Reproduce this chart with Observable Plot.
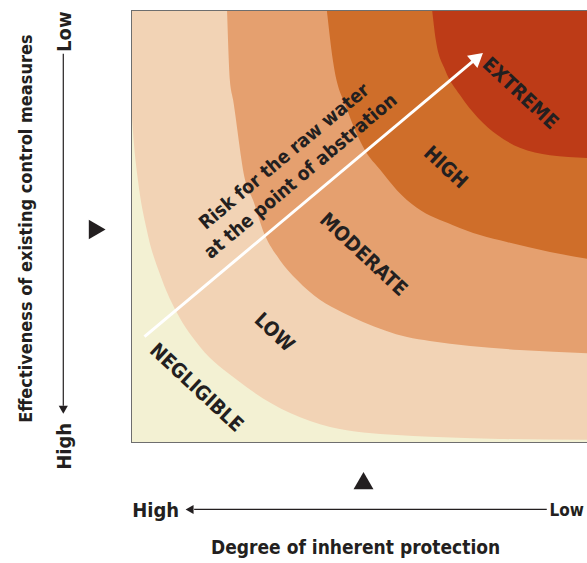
<!DOCTYPE html>
<html><head><meta charset="utf-8">
<script src="https://cdn.jsdelivr.net/npm/d3@7"></script>
<script src="https://cdn.jsdelivr.net/npm/@observablehq/plot@0.6"></script>
<style>
html,body{margin:0;padding:0;background:#fff;overflow:hidden;}
#chart{width:600px;}
</style></head><body><div id="chart"></div>
<script>
// Coordinate system: x = degree of inherent protection (0 = high, 100 = low)
//                    y = effectiveness of existing control measures (0 = high, 100 = low)
const bandNames  = ["NEGLIGIBLE", "LOW", "MODERATE", "HIGH", "EXTREME"];
const bandColors = ["#f3f1d3", "#f2d3b5", "#e5a06f", "#cf6e2a", "#bd3b17"];

// Boundary NEGLIGIBLE | LOW
const bLowX = [0, 0.4, 1.5, 3.4, 6.7, 9.9, 14.9, 22.8, 34.3, 42.9, 57.3, 64.4, 79.5, 100];
const bLowY = [79, 72.2, 60.6, 49.1, 37.5, 29.9, 22.0, 14.4, 6.7, 3.5, 1.6, 1.2, 0.7, 0.5];
// Boundary LOW | MODERATE
const bModX = [20.7, 21.3, 22.0, 24.6, 26.3, 28.4, 32.1, 35.8, 40.7, 45.7, 50.0, 59.5, 64.4, 73.1, 83.8, 100];
const bModY = [100, 83.8, 79.2, 60.6, 56.0, 49.1, 42.1, 37.5, 32.9, 29.9, 27.8, 24.3, 23.4, 22.2, 21.3, 20.5];
// Boundary MODERATE | HIGH
const bHighX = [42.2, 43.5, 46.6, 48.3, 50.4, 53.7, 57.3, 61.6, 69.4, 75.2, 81.0, 90.3, 100];
const bHighY = [100, 88.4, 76.9, 72.2, 67.6, 63.0, 58.3, 54.2, 50.2, 47.9, 46.3, 44.0, 42.1];
// Boundary HIGH | EXTREME
const bExtX = [64.9, 65.7, 67.7, 70.9, 74.8, 78.9, 83.8, 90.3, 100];
const bExtY = [100, 93, 86.1, 80.3, 75.0, 71.1, 68.1, 66.4, 65.7];

// Band label positions
const labelX = [14.0, 30.8, 50.0, 67.7, 83.8];
const labelY = [12.7, 25.5, 43.5, 63.7, 80.8];

// Risk arrow (start, head)
const riskArrowX = [2.8, 74.2];
const riskArrowY = [24.5, 88.8];
const riskText = "Risk for the raw water\nat the point of abstration";

// Axis texts
const yAxisTitle = "Effectiveness of existing control measures";
const xAxisTitle = "Degree of inherent protection";
const axisEnds = ["High", "Low"];

const FONT = '"Liberation Sans Narrow", "DejaVu Sans Condensed", "Arial Narrow", sans-serif';
const INK = "#231f20";

const toPts = (xs, ys) => xs.map((x, i) => ({x, y: ys[i]}));
const boundaries = [toPts(bLowX, bLowY), toPts(bModX, bModY), toPts(bHighX, bHighY), toPts(bExtX, bExtY)];
const labels = bandNames.map((t, i) => ({text: t, x: labelX[i], y: labelY[i]}));

const textOpts = {fontFamily: FONT, fontWeight: "bold", fill: INK, lineAnchor: "middle", textAnchor: "middle"};

const chart = Plot.plot({
  width: 600, height: 563,
  marginLeft: 131, marginRight: 5, marginTop: 10, marginBottom: 121,
  x: {domain: [0, 100], axis: null},
  y: {domain: [0, 100], axis: null},
  style: {fontFamily: FONT, background: "white", overflow: "visible"},
  marks: [
    Plot.frame({fill: bandColors[0]}),
    ...boundaries.map((pts, i) =>
      Plot.areaY(pts, {x: "x", y1: "y", y2: 100, fill: bandColors[i + 1], curve: "monotone-x"})),
    Plot.frame({stroke: "#6e6e6e", strokeWidth: 1}),
    // band labels
    Plot.text(labels, {x: "x", y: "y", text: "text", rotate: 43, fontSize: 20, ...textOpts}),
    // risk arrow
    Plot.link([0], {x1: riskArrowX[0], y1: riskArrowY[0], x2: riskArrowX[1], y2: riskArrowY[1], stroke: "white", strokeWidth: 3}),
    Plot.dot([0], {x: riskArrowX[1], y: riskArrowY[1], symbol: "triangle", r: 6, fill: "white", rotate: 50}),
    Plot.text([riskText], {x: 34.4, y: 64.3, text: d => d, rotate: -40, fontSize: 19, lineHeight: 1.35, ...textOpts}),
    // left axis
    Plot.link([0], {x1: -14.7, y1: 90, x2: -14.7, y2: 8.5, stroke: INK, strokeWidth: 1.2}),
    Plot.dot([0], {x: -14.7, y: 7.9, symbol: "triangle", r: 3.4, fill: INK, rotate: 180}),
    Plot.text([axisEnds[1]], {x: -14.4, y: 95.1, text: d => d, rotate: -90, fontSize: 20, ...textOpts}),
    Plot.text([axisEnds[0]], {x: -14.4, y: -0.9, text: d => d, rotate: -90, fontSize: 20, ...textOpts}),
    Plot.text([yAxisTitle], {x: -22.6, y: 49.5, text: d => d, rotate: -90, fontSize: 18, ...textOpts}),
    Plot.dot([0], {x: -8.0, y: 49.3, symbol: "triangle", r: 7.2, fill: INK, rotate: 90}),
    // bottom axis
    Plot.dot([0], {x: 50, y: -9.5, symbol: "triangle", r: 7.4, fill: INK}),
    Plot.link([0], {x1: 89.5, y1: -15.5, x2: 13.5, y2: -15.5, stroke: INK, strokeWidth: 1.2}),
    Plot.dot([0], {x: 12.8, y: -15.5, symbol: "triangle", r: 3.4, fill: INK, rotate: -90}),
    Plot.text([axisEnds[0]], {x: 5.2, y: -15.7, text: d => d, fontSize: 20, ...textOpts}),
    Plot.text([axisEnds[1]], {x: 90.1, y: -15.7, text: d => d, fontSize: 17, ...textOpts, textAnchor: "start"}),
    Plot.text([xAxisTitle], {x: 48.3, y: -24.5, text: d => d, fontSize: 19, ...textOpts})
  ]
});
document.getElementById("chart").append(chart);
</script>
</body></html>
